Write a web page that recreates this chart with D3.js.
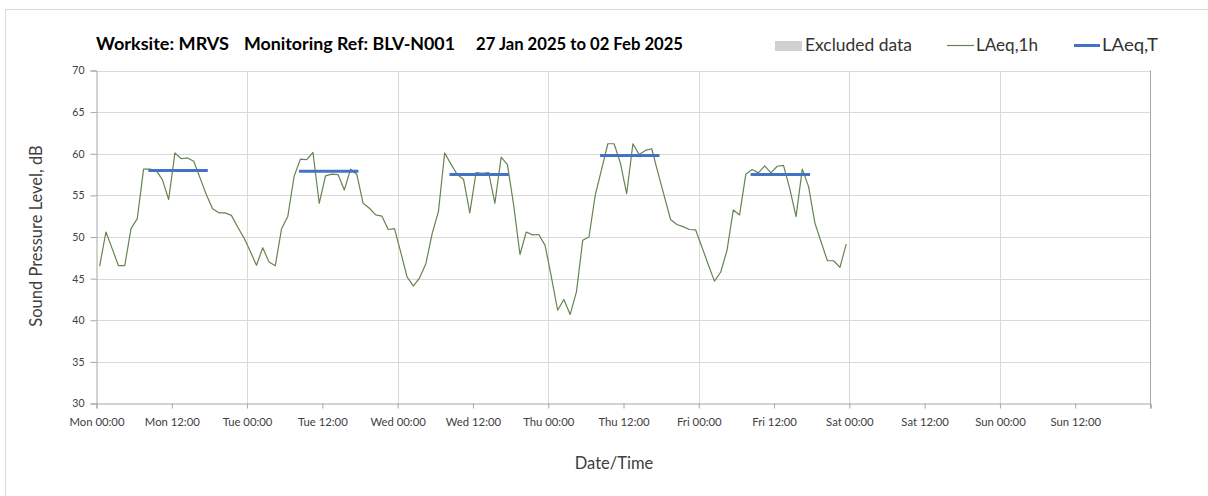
<!DOCTYPE html>
<html>
<head>
<meta charset="utf-8">
<script src="https://cdn.jsdelivr.net/npm/d3@7"></script>
<style>
  html, body { margin: 0; padding: 0; background: #fff; }
  svg { display: block; }
  text { font-family: Lato, "Open Sans", sans-serif; }
</style>
</head>
<body>
<script>
// ---- Data (hourly LAeq,1h, plotted at hour midpoints) ----
const dayNames = ["Mon", "Tue", "Wed", "Thu", "Fri"];
const monLAeq1h = [46.5, 50.6, 48.6, 46.55, 46.55, 51.0, 52.2, 58.15, 58.15, 58.0, 56.9, 54.5, 60.1, 59.4, 59.5, 59.1, 57.1, 55.1, 53.4, 52.9, 52.9, 52.6, 51.2, 49.9];
const tueLAeq1h = [48.3, 46.6, 48.7, 47.0, 46.55, 51.0, 52.5, 57.3, 59.35, 59.3, 60.15, 54.05, 57.35, 57.55, 57.5, 55.65, 58.15, 57.5, 54.05, 53.45, 52.65, 52.5, 50.9, 51.0];
const wedLAeq1h = [48.15, 45.2, 44.1, 45.1, 46.8, 50.4, 53.05, 60.1, 58.75, 57.5, 56.95, 52.9, 57.75, 57.65, 57.75, 54.05, 59.6, 58.7, 53.8, 47.9, 50.6, 50.25, 50.3, 49.0];
const thuLAeq1h = [45.2, 41.2, 42.5, 40.7, 43.4, 49.6, 50.0, 55.05, 58.1, 61.2, 61.2, 58.9, 55.2, 61.2, 59.9, 60.4, 60.6, 57.7, 54.9, 52.1, 51.5, 51.25, 50.9, 50.85];
const friLAeq1h = [48.8, 46.7, 44.7, 45.8, 48.4, 53.25, 52.65, 57.55, 58.1, 57.7, 58.55, 57.7, 58.5, 58.6, 55.8, 52.45, 58.15, 56.05, 51.7, 49.4, 47.15, 47.15, 46.35, 49.15];

// LAeq,T daytime period values
const laeqTDays = ["Mon", "Tue", "Wed", "Thu", "Fri"];
const laeqTValues = [58.0, 57.9, 57.5, 59.8, 57.5];
const laeqTStartHour = 8.5;
const laeqTEndHour = 17.5;

// Axis ticks
const yTicks = [30, 35, 40, 45, 50, 55, 60, 65, 70];
const xTickLabels = ["Mon 00:00", "Mon 12:00", "Tue 00:00", "Tue 12:00", "Wed 00:00", "Wed 12:00", "Thu 00:00", "Thu 12:00", "Fri 00:00", "Fri 12:00", "Sat 00:00", "Sat 12:00", "Sun 00:00", "Sun 12:00"];

const titleParts = ["Worksite: MRVS", "Monitoring Ref: BLV-N001", "27 Jan 2025 to 02 Feb 2025"];
const legendLabels = ["Excluded data", "LAeq,1h", "LAeq,T"];

// ---- Build series ----
const start = new Date(2025, 0, 27, 0, 0, 0);
const end = new Date(2025, 1, 3, 0, 0, 0);
const hourMs = 3600 * 1000;
const allDays = [monLAeq1h, tueLAeq1h, wedLAeq1h, thuLAeq1h, friLAeq1h];
const series = [];
allDays.forEach((vals, d) => {
  vals.forEach((v, h) => {
    series.push({ t: new Date(start.getTime() + (d * 24 + h + 0.5) * hourMs), v: v });
  });
});

// ---- Layout ----
const W = 1208, H = 496;
const plot = { left: 96.5, right: 1150.5, top: 70.5, bottom: 403.5 };

const svg = d3.select("body").append("svg").attr("width", W).attr("height", H);

// outer border
svg.append("rect").attr("x", 5.5).attr("y", 9.5).attr("width", W + 20).attr("height", H + 20)
  .attr("fill", "none").attr("stroke", "#d9d9d9").attr("stroke-width", 1);

const x = d3.scaleTime().domain([start, end]).range([plot.left, plot.right]);
const y = d3.scaleLinear().domain([30, 70]).range([plot.bottom, plot.top]);

// gridlines
const g = svg.append("g");
g.selectAll("line.hgrid").data(yTicks.filter(t => t > 30)).enter().append("line")
  .attr("x1", plot.left).attr("x2", plot.right)
  .attr("y1", d => Math.round(y(d)) + 0.5).attr("y2", d => Math.round(y(d)) + 0.5)
  .attr("stroke", "#d9d9d9").attr("stroke-width", 1);

const dayGrid = d3.timeDay.range(new Date(2025, 0, 28), end);
g.selectAll("line.vgrid").data(dayGrid).enter().append("line")
  .attr("x1", d => Math.round(x(d)) + 0.5).attr("x2", d => Math.round(x(d)) + 0.5)
  .attr("y1", plot.top).attr("y2", plot.bottom)
  .attr("stroke", "#d9d9d9").attr("stroke-width", 1);

// right edge line
g.append("line").attr("x1", plot.right).attr("x2", plot.right)
  .attr("y1", plot.top).attr("y2", plot.bottom + 5)
  .attr("stroke", "#a6a6a6").attr("stroke-width", 1);

// y axis
const yAxis = d3.axisLeft(y).tickValues(yTicks).tickSize(6).tickPadding(6);
const gy = svg.append("g").attr("transform", `translate(${plot.left},0)`).call(yAxis);
gy.select(".domain").attr("stroke", "#a6a6a6");
gy.selectAll(".tick line").attr("stroke", "#a6a6a6");
gy.selectAll(".tick text").attr("fill", "#404040").style("font-size", "10.5px").style("font-family", "Lato, sans-serif");

// x axis
const xTickDates = d3.timeHour.every(12).range(start, end);
const xAxis = d3.axisBottom(x).tickValues(xTickDates.concat([end])).tickSize(5).tickPadding(9)
  .tickFormat((d, i) => i < xTickLabels.length ? xTickLabels[i] : "");
const gx = svg.append("g").attr("transform", `translate(0,${plot.bottom})`).call(xAxis);
gx.select(".domain").attr("stroke", "#a6a6a6");
gx.selectAll(".tick line").attr("stroke", "#a6a6a6");
gx.selectAll(".tick text").attr("fill", "#404040").style("font-size", "11.3px").style("font-family", "Lato, sans-serif");

// LAeq,1h line
const line = d3.line().x(d => x(d.t)).y(d => y(d.v));
svg.append("path").datum(series).attr("d", line)
  .attr("fill", "none").attr("stroke", "#65844f").attr("stroke-width", 1.2).attr("stroke-linejoin", "round");

// LAeq,T segments
const tSegs = laeqTDays.map((dname, i) => {
  const d = dayNames.indexOf(dname);
  return {
    x1: new Date(start.getTime() + (d * 24 + laeqTStartHour) * hourMs),
    x2: new Date(start.getTime() + (d * 24 + laeqTEndHour) * hourMs),
    v: laeqTValues[i]
  };
});
svg.selectAll("line.laeqT").data(tSegs).enter().append("line")
  .attr("x1", d => x(d.x1)).attr("x2", d => x(d.x2))
  .attr("y1", d => y(d.v)).attr("y2", d => y(d.v))
  .attr("stroke", "#4472c4").attr("stroke-width", 3).attr("stroke-linecap", "square");

// Title
const titleX = [96, 244, 476];
const titleW = [133, 211, 207];
svg.selectAll("text.title").data(titleParts).enter().append("text")
  .attr("x", (d, i) => titleX[i]).attr("y", 50)
  .attr("textLength", (d, i) => titleW[i]).attr("lengthAdjust", "spacingAndGlyphs")
  .attr("fill", "#000").style("font-size", "16.5px").style("font-weight", "bold")
  .text(d => d);

// Legend
const leg = svg.append("g");
leg.append("rect").attr("x", 775).attr("y", 41).attr("width", 27).attr("height", 10).attr("fill", "#d0d0d0");
leg.append("text").attr("x", 805).attr("y", 51).attr("textLength", 107).attr("lengthAdjust", "spacingAndGlyphs")
  .attr("fill", "#333").style("font-size", "16.5px").text(legendLabels[0]);
leg.append("line").attr("x1", 947).attr("x2", 974).attr("y1", 45.5).attr("y2", 45.5).attr("stroke", "#65844f").attr("stroke-width", 1.2);
leg.append("text").attr("x", 976).attr("y", 51).attr("textLength", 62).attr("lengthAdjust", "spacingAndGlyphs")
  .attr("fill", "#333").style("font-size", "16.5px").text(legendLabels[1]);
leg.append("line").attr("x1", 1074).attr("x2", 1100).attr("y1", 45.5).attr("y2", 45.5).attr("stroke", "#4472c4").attr("stroke-width", 3);
leg.append("text").attr("x", 1102).attr("y", 51).attr("textLength", 56).attr("lengthAdjust", "spacingAndGlyphs")
  .attr("fill", "#333").style("font-size", "16.5px").text(legendLabels[2]);

// Axis titles
svg.append("text").attr("transform", "translate(42,236) rotate(-90)").attr("text-anchor", "middle")
  .attr("fill", "#404040").style("font-size", "16.5px").text("Sound Pressure Level, dB");
svg.append("text").attr("x", 614).attr("y", 469).attr("text-anchor", "middle")
  .attr("fill", "#404040").style("font-size", "16.5px").text("Date/Time");
</script>
</body>
</html>
